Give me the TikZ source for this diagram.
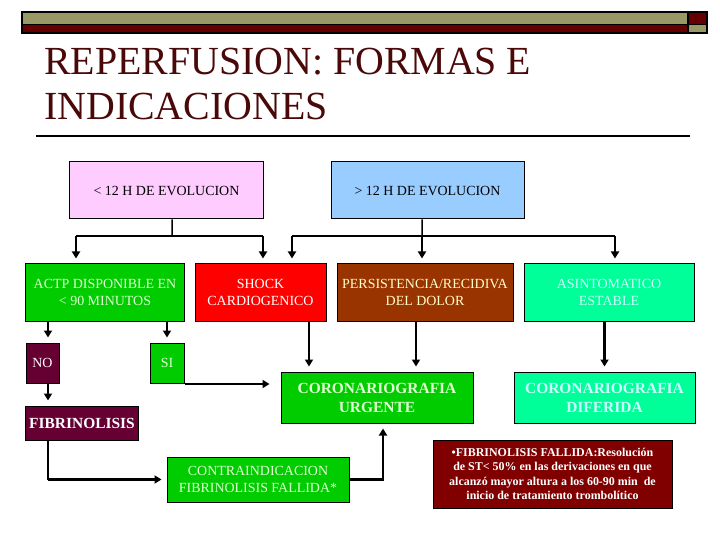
\documentclass[tikz,border=0pt]{standalone}
\usepackage{fontspec}
\setmainfont{Liberation Serif}
\usetikzlibrary{arrows.meta,calc}
\definecolor{olive}{HTML}{999966}
\definecolor{darkred}{HTML}{660000}
\definecolor{titlered}{HTML}{4A0808}
\definecolor{pinkbox}{HTML}{FFCCFF}
\definecolor{bluebox}{HTML}{99CCFF}
\definecolor{greenbox}{HTML}{00CC00}
\definecolor{redbox}{HTML}{FF0000}
\definecolor{brownbox}{HTML}{993300}
\definecolor{mintbox}{HTML}{00FF99}
\definecolor{plumbox}{HTML}{660033}
\definecolor{notebox}{HTML}{800000}
\definecolor{lightgreentext}{HTML}{E0FFD0}
\definecolor{cyantext}{HTML}{CCFFFF}
\definecolor{creamtext}{HTML}{FFFFCC}
\begin{document}
\begin{tikzpicture}[x=1bp,y=-1bp,
  box/.style={draw=black,line width=1bp,rectangle,inner sep=0pt,align=center,
    font=\fontsize{14}{17}\selectfont},
  branch/.style={line width=1.5bp,black},
  arr/.style={line width=2.5bp,black,-{Triangle[width=8bp,length=7bp]},shorten >=5bp},
  tarr/.style={line width=2bp,black,-{Triangle[width=8bp,length=7bp]}}
]
\useasboundingbox (0,0) rectangle (720,540);
% top bar
\fill[olive] (22,12) rectangle (688,24.5);
\fill[darkred] (22,24.5) rectangle (688,33);
\fill[darkred] (688,12) rectangle (707,24.5);
\fill[olive] (688,24.5) rectangle (707,33);
\draw[line width=1.5bp] (22,12) rectangle (707,33);
\draw[line width=1.5bp] (22,24.5) -- (707,24.5);
\draw[line width=1.5bp] (688,12) -- (688,33);
% title
\node[anchor=base west,inner sep=0pt,text=titlered,font=\fontsize{40}{45}\selectfont] (t1) at (44,75) {REPERFUSION: FORMAS E};
\node[anchor=base west,inner sep=0pt,text=titlered,font=\fontsize{40}{45}\selectfont] (t2) at (44,120) {INDICACIONES};
\draw[line width=2bp] (36,136) -- (690,136);
% boxes
\node[box,fill=pinkbox,minimum width=193bp,minimum height=57bp] (A) at (166.5,190.5) {< 12 H DE EVOLUCION};
\node[box,fill=bluebox,minimum width=193bp,minimum height=57bp] (B) at (427.5,190.5) {> 12 H DE EVOLUCION};
\node[box,fill=greenbox,text=lightgreentext,minimum width=158bp,minimum height=57bp] (ACTP) at (105,292.5) {ACTP DISPONIBLE EN\\< 90 MINUTOS};
\node[box,fill=redbox,text=white,minimum width=131bp,minimum height=57bp] (SHOCK) at (260.5,292.5) {SHOCK\\CARDIOGENICO};
\node[box,fill=brownbox,text=creamtext,minimum width=176bp,minimum height=57bp] (PERS) at (425,292.5) {PERSISTENCIA/RECIDIVA\\DEL DOLOR};
\node[box,fill=mintbox,text=cyantext,minimum width=170bp,minimum height=57bp] (ASIN) at (609,292.5) {ASINTOMATICO\\ESTABLE};
\node[box,fill=plumbox,text=white,minimum width=33bp,minimum height=40bp] (NO) at (42.5,363) {NO};
\node[box,fill=greenbox,text=lightgreentext,minimum width=34bp,minimum height=40bp] (SI) at (167,363) {SI};
\node[box,fill=plumbox,text=white,minimum width=112bp,minimum height=34bp,font=\fontsize{15.5}{18}\selectfont\bfseries] (FIBR) at (82,423) {FIBRINOLISIS};
\node[box,fill=greenbox,text=lightgreentext,minimum width=182bp,minimum height=45bp] (CONTRA) at (258,479.5) {CONTRAINDICACION\\FIBRINOLISIS FALLIDA*};
\node[box,fill=greenbox,text=lightgreentext,minimum width=192bp,minimum height=51bp,font=\fontsize{15.5}{19}\selectfont\bfseries] (URG) at (377,397.5) {CORONARIOGRAFIA\\URGENTE};
\node[box,fill=mintbox,text=cyantext,minimum width=181bp,minimum height=51bp,font=\fontsize{15.5}{19}\selectfont\bfseries] (DIF) at (604.5,397.5) {CORONARIOGRAFIA\\DIFERIDA};
\node[box,fill=notebox,text=white,minimum width=239bp,minimum height=68bp,font=\fontsize{12}{14.3}\selectfont\bfseries] (NOTE) at (552.5,474) {•FIBRINOLISIS FALLIDA:Resolución\\de ST< 50\% en las derivaciones en que\\alcanzó mayor altura a los 60-90 min\ \ de\\inicio de tratamiento trombolítico};
% connectors from A
\coordinate (jA) at (172,236);
\coordinate (jAl) at (76,236);
\coordinate (jAr) at (263,236);
\draw[branch] ([xshift=5.5bp]A.south) -- (jA);
\draw[branch] (jAl) -- (jAr);
\draw[arr,line width=1.8bp] (jAl) -- (jAl |- ACTP.north);
\draw[arr] (jAr) -- (jAr |- SHOCK.north);
% connectors from B
\coordinate (jB) at (422,236);
\coordinate (jBl) at (292,236);
\coordinate (jBr) at (615,236);
\draw[branch] ([xshift=-5.5bp]B.south) -- (jB);
\draw[branch] (jBl) -- (jBr);
\draw[arr] (jBl) -- (jBl |- SHOCK.north);
\draw[arr] (jB) -- (jB |- PERS.north);
\draw[arr] (jBr) -- (jBr |- ASIN.north);
% ACTP to NO / SI
\draw[arr] ([xshift=5.5bp]NO.north |- ACTP.south) -- ([xshift=5.5bp]NO.north);
\draw[arr] (SI.north |- ACTP.south) -- (SI.north);
\draw[arr] ([xshift=5.5bp]NO.south) -- ([xshift=5.5bp]NO.south |- FIBR.north);
% SI to URG
\draw[arr,shorten >=11bp] ([yshift=-0.5bp]SI.south east) -- ([yshift=-0.5bp]SI.south east -| URG.west);
% SHOCK, PERS to URG
\draw[arr] ([xshift=48.5bp]SHOCK.south) -- ([xshift=48.5bp]SHOCK.south |- URG.north);
\draw[arr] ([xshift=-9bp]PERS.south) -- ([xshift=-9bp]PERS.south |- URG.north);
% ASIN to DIF
\draw[arr] (DIF.north |- ASIN.south) -- (DIF.north);
% FIBR to CONTRA
\draw[branch] ([xshift=-34bp]FIBR.south) -- ([xshift=-34bp]FIBR.south |- CONTRA.west);
\draw[arr] ([xshift=-34bp]FIBR.south |- CONTRA.west) -- (CONTRA.west);
% CONTRA to URG
\draw[arr] (CONTRA.east) -| ([xshift=6bp]URG.south);
\end{tikzpicture}
\end{document}
